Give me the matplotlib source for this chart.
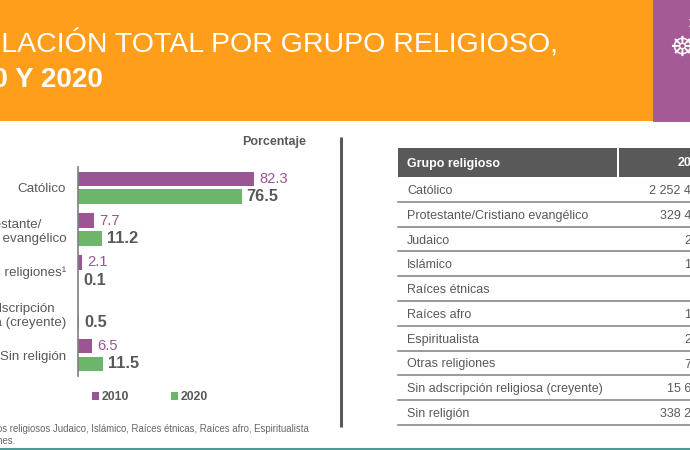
import numpy as np
import matplotlib
matplotlib.use("Agg")
import matplotlib.pyplot as plt
from matplotlib.patches import Rectangle

plt.rcParams['font.family'] = ['Liberation Sans', 'DejaVu Sans']

# chart data
categories = ["Católico", "Protestante/\nCristiano evangélico", "Otras religiones¹",
              "Sin adscripción\nreligiosa (creyente)", "Sin religión"]
values_2010 = [82.3, 7.7, 2.1, np.nan, 6.5]
values_2020 = [76.5, 11.2, 0.1, 0.5, 11.5]

# table data, the right side is cut off in the picture
table_groups = ["Católico", "Protestante/Cristiano evangélico", "Judaico", "Islámico",
                "Raíces étnicas", "Raíces afro", "Espiritualista", "Otras religiones",
                "Sin adscripción religiosa (creyente)", "Sin religión"]
table_values = ["2 252 4", "329 4", "2", "1", "", "1", "2", "7", "15 6", "338 2"]

orange = "#FF9E1B"
purple = "#A45A95"
bar_purple = "#9B5594"
green = "#6DB56A"
gray = "#595959"
line_gray = "#7F7F7F"

W, H = 690, 450
fig = plt.figure(figsize=(W / 100, H / 100), dpi=100)

# background layer in pixel coordinates
bg = fig.add_axes([0, 0, 1, 1])
bg.set_xlim(0, W)
bg.set_ylim(H, 0)
bg.axis("off")

bg.add_patch(Rectangle((0, 0), 653, 121, color=orange, lw=0))
bg.add_patch(Rectangle((653, 0), 37, 122, color=purple, lw=0))
bg.text(695, 25, "\u2721", color="white", fontsize=15, ha="center", va="center",
        family="DejaVu Sans")
bg.text(682, 48, "\u2638", color="white", fontsize=20, ha="center", va="center",
        family="DejaVu Sans")

bg.text(558, 44.5, "POBLACIÓN TOTAL POR GRUPO RELIGIOSO,", color="white", fontsize=20.5,
        ha="right", va="center")
bg.text(103, 80, "2010 Y 2020", color="white", fontsize=20, fontweight="bold",
        ha="right", va="center")

bg.text(306, 142, "Porcentaje", color=gray, fontsize=9, fontweight="bold",
        ha="right", va="center")

# separator and bottom line
bg.plot([341, 341], [137, 427], color=gray, lw=2.2, solid_capstyle="butt")
bg.plot([0, W], [448.5, 448.5], color="#4E9A96", lw=1.5)

# footnote
bg.text(309, 429, "¹ Incluye los grupos religiosos Judaico, Islámico, Raíces étnicas, Raíces afro, Espiritualista",
        color="#666666", fontsize=6.9, ha="right", va="center")
bg.text(15, 441, "y otras religiones.", color="#666666", fontsize=6.9, ha="right", va="center")

# table
tx0, tx1, tx2 = 398, 617, 690
bg.add_patch(Rectangle((tx0, 148), tx1 - tx0, 29, color=gray, lw=0))
bg.add_patch(Rectangle((tx1 + 1.5, 148), tx2 - tx1, 29, color=gray, lw=0))
bg.text(407, 163.5, "Grupo religioso", color="white", fontsize=9, fontweight="bold", va="center")
bg.text(691, 163.5, "20", color="white", fontsize=9, fontweight="bold", ha="right", va="center")
row_h = 24.8
for i, (g, v) in enumerate(zip(table_groups, table_values)):
    y = 177 + row_h * i
    bg.text(407, y + row_h / 2 + 1.5, g, color=gray, fontsize=9, va="center")
    bg.text(691, y + row_h / 2 + 1.5, v, color=gray, fontsize=9, ha="right", va="center")
    bg.plot([tx0, tx2], [y + row_h] * 2, color=line_gray, lw=1.1)

# bar chart, 2.139 px per percent
ax_w = 210
ax = fig.add_axes([78 / W, 1 - 376 / H, ax_w / W, 209.3 / H])
ax.patch.set_alpha(0)
y = np.arange(len(categories))
b1 = ax.barh(y - 0.2125, values_2010, height=0.345, color=bar_purple, label="2010")
b2 = ax.barh(y + 0.2125, values_2020, height=0.345, color=green, label="2020")
ax.set_xlim(0, ax_w / 2.139)
ax.set_ylim(4.5, -0.5)
ax.set_yticks(y, categories, multialignment="center", fontsize=9.6, color=gray)
ax.set_xticks([])
ax.tick_params(axis="y", length=0, pad=8.5)
for s in ["top", "right", "bottom"]:
    ax.spines[s].set_visible(False)
ax.spines["left"].set_color(line_gray)
ax.spines["left"].set_linewidth(1.2)

ax.bar_label(b1, labels=["" if np.isnan(v) else f"{v:.1f}" for v in values_2010],
             padding=3.6, color=bar_purple, fontsize=10.6)
ax.bar_label(b2, fmt="%.1f", padding=3.6, color=gray, fontsize=11.8, fontweight="bold")

leg = ax.legend(loc="center", bbox_to_anchor=(150 / W, 1 - 397.5 / H),
                bbox_transform=fig.transFigure, ncol=2, frameon=False, fontsize=8.8,
                handlelength=0.6, handleheight=0.6, handletextpad=0.2, columnspacing=3.4)
for t in leg.get_texts():
    t.set_color(gray)
    t.set_fontweight("bold")

fig.savefig("out.png", dpi=100)
